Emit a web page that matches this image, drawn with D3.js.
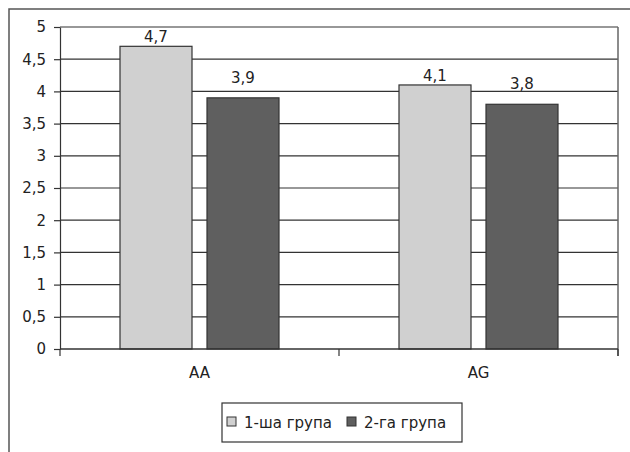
<!DOCTYPE html>
<html>
<head>
<meta charset="utf-8">
<script src="https://cdn.jsdelivr.net/npm/d3@7"></script>
<style>
  html, body { margin: 0; padding: 0; background: #fff; }
  svg { display: block; }
  text { font-family: "DejaVu Sans", Verdana, sans-serif; fill: #222; }
</style>
</head>
<body>
<svg id="chart" width="630" height="452"></svg>
<script>
// Mean scores per category, two groups
const categories = ["AA", "AG"];
const seriesNames = ["1-ша група", "2-га група"];
const group1 = [4.7, 4.1];
const group2 = [3.9, 3.8];
const yTicks = [0, 0.5, 1, 1.5, 2, 2.5, 3, 3.5, 4, 4.5, 5];

const colors = ["#d0d0d0", "#5f5f5f"];
const labelLift = [4, 15]; // gap between bar top and its value label, per series
const fmt = v => String(v).replace(".", ",");
const FONT = 15;

const svg = d3.select("#chart");

// outer chart frame (runs past the right and bottom edges)
svg.append("rect")
  .attr("x", 9).attr("y", 9)
  .attr("width", 640).attr("height", 460)
  .attr("fill", "none").attr("stroke", "#555").attr("stroke-width", 1.5);

const plot = { left: 60, right: 618, top: 27, bottom: 349 };

const x0 = d3.scaleBand().domain(categories).range([plot.left, plot.right]);
const y = d3.scaleLinear().domain([0, 5]).range([plot.bottom, plot.top]);

// gridlines
svg.append("g").selectAll("line").data(yTicks.filter(t => t > 0)).join("line")
  .attr("x1", plot.left).attr("x2", plot.right)
  .attr("y1", d => y(d)).attr("y2", d => y(d))
  .attr("stroke", "#333").attr("stroke-width", 1.2);

// right border of plot
svg.append("line")
  .attr("x1", plot.right).attr("x2", plot.right)
  .attr("y1", plot.top).attr("y2", plot.bottom + 7)
  .attr("stroke", "#666").attr("stroke-width", 1.5);

// bars
const barW = 72, gap = 15;
const data = categories.map((c, i) => ({ c, vals: [group1[i], group2[i]] }));
const g = svg.append("g");
data.forEach(d => {
  const cx = x0(d.c) + x0.bandwidth() / 2;
  d.vals.forEach((v, j) => {
    const bx = cx - gap / 2 - barW + j * (barW + gap);
    g.append("rect")
      .attr("x", bx).attr("y", y(v))
      .attr("width", barW).attr("height", y(0) - y(v))
      .attr("fill", colors[j]).attr("stroke", "#333").attr("stroke-width", 1.2);
    g.append("text")
      .attr("x", bx + barW / 2).attr("y", y(v) - labelLift[j])
      .attr("text-anchor", "middle").attr("font-size", FONT)
      .text(fmt(v));
  });
});

// y axis
const yAxis = d3.axisLeft(y).tickValues(yTicks).tickSize(6).tickSizeOuter(0).tickFormat(fmt);
const ya = svg.append("g").attr("transform", `translate(${plot.left},0)`).call(yAxis);
ya.select(".domain").attr("stroke", "#333").attr("stroke-width", 1.2);
ya.selectAll(".tick line").attr("stroke", "#333").attr("stroke-width", 1.2);
ya.selectAll(".tick text").attr("font-size", FONT).attr("fill", "#222").attr("x", -14);

// x axis
const xa = svg.append("g").attr("transform", `translate(0,${plot.bottom})`);
xa.append("line").attr("x1", plot.left).attr("x2", plot.right)
  .attr("stroke", "#333").attr("stroke-width", 1.5);
const bounds = [plot.left, ...categories.map(c => x0(c) + x0.bandwidth())];
xa.selectAll("line.tk").data(bounds).join("line").attr("class", "tk")
  .attr("x1", d => d).attr("x2", d => d).attr("y1", 0).attr("y2", 7)
  .attr("stroke", "#333").attr("stroke-width", 1.2);
xa.selectAll("text").data(categories).join("text")
  .attr("x", d => x0(d) + x0.bandwidth() / 2).attr("y", 29)
  .attr("text-anchor", "middle").attr("font-size", FONT)
  .text(d => d);

// legend
const lg = svg.append("g");
lg.append("rect").attr("x", 222).attr("y", 403).attr("width", 240).attr("height", 39)
  .attr("fill", "#fff").attr("stroke", "#333").attr("stroke-width", 1.2);
const legX = [227, 347];
seriesNames.forEach((s, i) => {
  lg.append("rect").attr("x", legX[i]).attr("y", 417).attr("width", 9).attr("height", 9)
    .attr("fill", colors[i]).attr("stroke", "#333").attr("stroke-width", 1);
  lg.append("text").attr("x", legX[i] + 17).attr("y", 428)
    .attr("font-size", FONT).text(s);
});
</script>
</body>
</html>
